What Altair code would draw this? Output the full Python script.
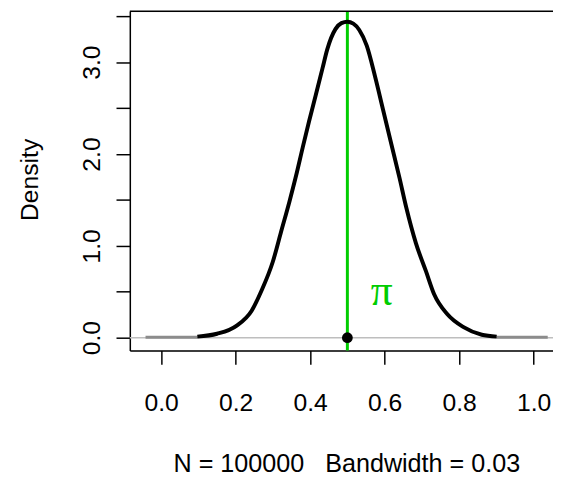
import altair as alt
import pandas as pd

# Density curve
curve_x = [0.097, 0.150, 0.203, 0.243, 0.269, 0.300, 0.322, 0.344, 0.362, 0.380,
           0.397, 0.415, 0.433, 0.446, 0.468, 0.484, 0.500, 0.516, 0.532, 0.552,
           0.574, 0.596, 0.618, 0.640, 0.658, 0.684, 0.711, 0.733, 0.768, 0.812,
           0.861, 0.901]
curve_y = [0.012, 0.043, 0.132, 0.294, 0.509, 0.830, 1.154, 1.476, 1.760, 2.070,
           2.355, 2.640, 2.930, 3.140, 3.360, 3.425, 3.440, 3.420, 3.350, 3.180,
           2.850, 2.480, 2.110, 1.740, 1.420, 1.030, 0.724, 0.473, 0.258, 0.115,
           0.032, 0.012]
# flat tails (drawn grey)
tail_x = [-0.042, 0.097, 0.901, 1.038]
tail_y = [0.006, 0.006, 0.006, 0.006]
tail_grp = ["left", "left", "right", "right"]
# true value marker
pi_x = [0.5]
pi_y = [0.0]
pi_label_x = [0.592]
pi_label_y = [0.50]
pi_label = ["π"]

x_ticks = [0.0, 0.2, 0.4, 0.6, 0.8, 1.0]
y_ticks = [0.0, 0.5, 1.0, 1.5, 2.0, 2.5, 3.0, 3.5]
x_title = "N = 100000\u00a0\u00a0\u00a0Bandwidth = 0.03"
y_title = "Density"

W, H = 429, 344
XDOM = [-0.0842, 1.0522]
YDOM = [-0.1396, 3.5553]
FONT = "Liberation Sans"
GREEN = "#00CD00"

curve_df = pd.DataFrame({"x": curve_x, "y": curve_y})
tail_df = pd.DataFrame({"x": tail_x, "y": tail_y, "g": tail_grp})
pt_df = pd.DataFrame({"x": pi_x, "y": pi_y})
lab_df = pd.DataFrame({"x": pi_label_x, "y": pi_label_y, "t": pi_label})
zero_df = pd.DataFrame({"y": [0.0]})

xs = alt.Scale(domain=XDOM, nice=False, zero=False)
ys = alt.Scale(domain=YDOM, nice=False, zero=False)

x_axis = alt.Axis(values=x_ticks, format=".1f", title=x_title, grid=False,
                  domainColor="black", domainWidth=1.5, tickColor="black", tickWidth=1.5,
                  tickSize=14, labelFont=FONT, labelFontSize=25, labelColor="black",
                  labelPadding=47, labelBaseline="alphabetic", labelFlush=False,
                  titleFont=FONT, titleFontSize=25.5, titleFontWeight="normal", titleColor="black",
                  titleX=219.5, titleY=123, titleBaseline="alphabetic", titleAlign="center",
                  titleAnchor="start")
y_axis = alt.Axis(values=y_ticks, title=y_title, grid=False,
                  labelExpr="datum.value % 1 == 0 ? format(datum.value, '.1f') : ''",
                  domainColor="black", domainWidth=1.5, tickColor="black", tickWidth=1.5,
                  tickSize=14, labelFont=FONT, labelFontSize=25, labelColor="black",
                  labelAngle=270, labelAlign="center", labelBaseline="alphabetic",
                  labelPadding=17, labelFlush=False,
                  titleFont=FONT, titleFontSize=25, titleFontWeight="normal", titleColor="black",
                  titleAngle=270, titleX=-93.5, titleY=170.5, titleBaseline="alphabetic",
                  titleAlign="center", titleAnchor="start")

zero_line = alt.Chart(zero_df).mark_rule(color="#BEBEBE", strokeWidth=1.5).encode(
    y=alt.Y("y:Q", scale=ys, axis=y_axis))

vline = alt.Chart(pt_df).mark_rule(color=GREEN, strokeWidth=3).encode(
    x=alt.X("x:Q", scale=xs, axis=x_axis), y=alt.value(0), y2=alt.value(H))

tails = alt.Chart(tail_df).mark_line(color="#8C8C8C", strokeWidth=3).encode(
    x=alt.X("x:Q", scale=xs), y=alt.Y("y:Q", scale=ys), detail="g:N")

curve = alt.Chart(curve_df).mark_line(color="black", strokeWidth=4,
                                      interpolate="monotone").encode(
    x=alt.X("x:Q", scale=xs), y=alt.Y("y:Q", scale=ys))

point = alt.Chart(pt_df).mark_point(filled=True, color="black", size=120, opacity=1).encode(
    x=alt.X("x:Q", scale=xs), y=alt.Y("y:Q", scale=ys))

label = alt.Chart(lab_df).mark_text(font="Liberation Serif", fontSize=44, color=GREEN,
                                    baseline="middle").encode(
    x=alt.X("x:Q", scale=xs), y=alt.Y("y:Q", scale=ys), text="t:N")

top_border = alt.Chart(zero_df).mark_rule(color="black", strokeWidth=1.5).encode(
    x=alt.value(0), x2=alt.value(W), y=alt.value(0))

chart = alt.layer(zero_line, vline, tails, curve, point, label, top_border).properties(
    width=W, height=H,
    autosize=alt.AutoSizeParams(type="none"),
    padding={"left": 123.5, "top": 0, "right": 0, "bottom": 126},
).configure_view(stroke=None).configure(background="white")

chart.save("out.html", embed_options={"renderer": "svg", "actions": False})
